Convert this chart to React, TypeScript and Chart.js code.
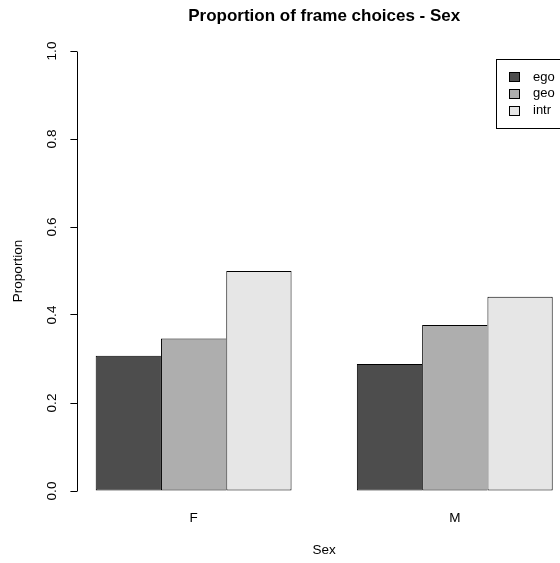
import React, { useEffect, useRef } from 'react';
import { Chart, registerables } from 'chart.js';

Chart.register(...registerables);

// ---- data ----
const categories = ['F', 'M'];
const seriesNames = ['ego', 'geo', 'intr'];
const egoValues = [0.3075, 0.2888];
const geoValues = [0.3464, 0.3773];
const intrValues = [0.4998, 0.4414];
const seriesColors = ['#4D4D4D', '#AEAEAE', '#E6E6E6'];
const yTickValues = [0, 0.2, 0.4, 0.6, 0.8, 1.0];
const chartTitle = 'Proportion of frame choices - Sex';
const xAxisTitle = 'Sex';
const yAxisTitle = 'Proportion';

const seriesValues = [egoValues, geoValues, intrValues];

// R barplot(beside=TRUE) layout: each group = 1 unit gap + n bars
const nSeries = seriesNames.length;
const groupCenters = categories.map((_, i) => 1 + i * (nSeries + 1) + nSeries / 2);
const xLeft = 1;
const xRight = categories.length * (nSeries + 1);
const xPad = (xRight - xLeft) * 0.04;
const yPad = (yTickValues[yTickValues.length - 1] - yTickValues[0]) * 0.04;

const CANVAS_W = 571;
const CANVAS_H = 563;
const FONT = '"Liberation Sans", Arial, Helvetica, sans-serif';
const BASE = 13.5;

function alignPx(p: number) {
  return Math.round(p - 0.5) + 0.5;
}

const rDecorPlugin = {
  id: 'rDecor',
  afterDraw(chart: any) {
    const { ctx, chartArea } = chart;
    const ys = chart.scales.y;
    ctx.save();
    // y axis line spanning tick range only
    ctx.strokeStyle = '#000';
    ctx.lineWidth = 1;
    const ax = alignPx(ys.right);
    ctx.beginPath();
    ctx.moveTo(ax, alignPx(ys.getPixelForValue(yTickValues[0])));
    ctx.lineTo(ax, alignPx(ys.getPixelForValue(yTickValues[yTickValues.length - 1])));
    ctx.stroke();

    // legend box (top right, clipped by window)
    const boxRight = chartArea.right;
    const boxLeft = 496.3;
    const boxTop = 59.3;
    const rowH = 16.8;
    const boxH = 69;
    ctx.fillStyle = '#fff';
    ctx.fillRect(boxLeft, boxTop, boxRight - boxLeft, boxH);
    ctx.strokeStyle = '#000';
    ctx.strokeRect(alignPx(boxLeft), alignPx(boxTop), Math.round(boxRight - boxLeft), Math.round(boxH));
    ctx.font = `13px ${FONT}`;
    ctx.textBaseline = 'middle';
    ctx.textAlign = 'left';
    chart.data.datasets.forEach((ds: any, i: number) => {
      const cy = boxTop + 17.7 + i * rowH;
      ctx.fillStyle = ds.backgroundColor;
      ctx.fillRect(509, Math.round(cy - 5), 11, 10);
      ctx.strokeStyle = '#000';
      ctx.strokeRect(509.5, Math.round(cy - 5) + 0.5, 10, 9);
      ctx.fillStyle = '#000';
      ctx.fillText(ds.label, 533, cy);
    });
    ctx.restore();
  },
};

export default function App() {
  const canvasRef = useRef<HTMLCanvasElement | null>(null);

  useEffect(() => {
    document.body.style.margin = '0';
    const canvas = canvasRef.current;
    if (!canvas) return;
    Chart.defaults.font.family = FONT;
    Chart.defaults.font.size = BASE;
    Chart.defaults.color = '#000';

    const datasets = seriesNames.map((name, s) => ({
      label: name,
      data: categories.map((_, i) => ({ x: groupCenters[i], y: seriesValues[s][i] })),
      backgroundColor: seriesColors[s],
      borderColor: '#000',
      borderWidth:
        s < nSeries - 1
          ? { top: 1, left: 1, bottom: 1, right: 0 }
          : { top: 1, left: 1, bottom: 1, right: 1 },
      borderSkipped: false as const,
      categoryPercentage: nSeries / (nSeries + 1),
      barPercentage: 1,
    }));

    const chart = new Chart(canvas, {
      type: 'bar',
      data: { datasets },
      plugins: [rDecorPlugin],
      options: {
        animation: false,
        responsive: false,
        devicePixelRatio: 1,
        layout: { padding: 0 },
        plugins: {
          legend: { display: false },
          tooltip: { enabled: false },
          title: {
            display: true,
            text: chartTitle,
            fullSize: false,
            font: { size: 17, weight: 'bold' },
            color: '#000',
            padding: { top: 5.8, bottom: 7.2 },
          },
        },
        scales: {
          x: {
            type: 'linear',
            min: xLeft - xPad,
            max: xRight + xPad,
            offset: false,
            grid: { display: false, offset: false, drawTicks: false },
            border: { display: false },
            afterBuildTicks: (scale: any) => {
              scale.ticks = groupCenters.map((v) => ({ value: v }));
            },
            afterFit: (scale: any) => {
              scale.height = 54.4;
            },
            ticks: {
              autoSkip: false,
              maxRotation: 0,
              minRotation: 0,
              padding: 1.3,
              font: { size: BASE },
              color: '#000',
              callback: (_v: any, index: number) => categories[index],
            },
            title: {
              display: true,
              text: xAxisTitle,
              font: { size: BASE },
              color: '#000',
              padding: { top: 0, bottom: 4.9 },
            },
          },
          y: {
            type: 'linear',
            min: yTickValues[0] - yPad,
            max: yTickValues[yTickValues.length - 1] + yPad,
            grid: {
              display: true,
              drawOnChartArea: false,
              drawTicks: true,
              tickLength: 7,
              color: '#000',
              lineWidth: 1,
            },
            border: { display: false },
            afterBuildTicks: (scale: any) => {
              scale.ticks = yTickValues.map((v) => ({ value: v }));
            },
            afterFit: (scale: any) => {
              scale.width = 77.4;
            },
            ticks: {
              autoSkip: false,
              minRotation: 90,
              maxRotation: 90,
              crossAlign: 'center',
              padding: 9,
              font: { size: BASE },
              color: '#000',
              callback: (v: any) => Number(v).toFixed(1),
            },
            title: {
              display: true,
              text: yAxisTitle,
              font: { size: BASE },
              color: '#000',
              padding: { top: 9.9, bottom: 0 },
            },
          },
        },
      } as any,
    });

    return () => chart.destroy();
  }, []);

  return (
    <div
      style={{
        position: 'absolute',
        left: 0,
        top: 0,
        width: 560,
        height: 563,
        overflow: 'hidden',
        background: '#fff',
      }}
    >
      <canvas
        ref={canvasRef}
        width={CANVAS_W}
        height={CANVAS_H}
        style={{ display: 'block', width: CANVAS_W, height: CANVAS_H }}
      />
    </div>
  );
}
